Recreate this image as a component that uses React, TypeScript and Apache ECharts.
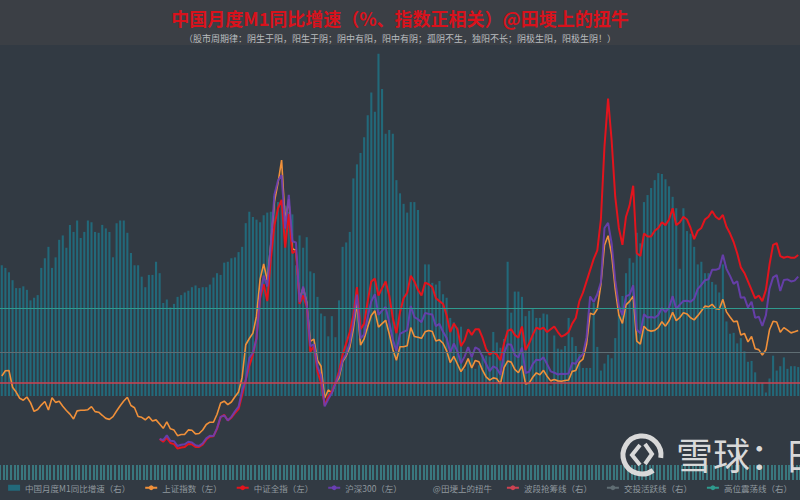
import React, { useEffect, useRef } from "react";
import * as echarts from "echarts";

// ---------- data ----------
const START_YEAR = 2001;
const START_MONTH = 4;
const MONTH_COUNT = 223;
const CATEGORIES: string[] = [];
for (let k = 0; k < MONTH_COUNT; k++) {
  const m = START_MONTH - 1 + k;
  CATEGORIES.push(`${START_YEAR + Math.floor(m / 12)}-${String((m % 12) + 1).padStart(2, "0")}`);
}

// 中国月度M1同比增速 (%)
const M1_YOY = [
  14.9, 14.6, 14.1, 13.2, 12.3, 12.3, 12.5, 12.1, 10.9, 11.2, 11.5, 14.6,
  15.7, 17.0, 14.6, 15.8, 17.8, 18.3, 16.9, 19.5, 18.7, 20.0, 18.0, 18.7,
  20.0, 19.8, 18.7, 18.6, 19.5, 19.1, 18.7, 15.8, 19.7, 20.0, 20.0, 18.6,
  16.3, 14.9, 14.9, 13.6, 12.4, 13.8, 13.8, 15.3, 14.0, 10.6, 11.0, 10.1,
  10.5, 11.3, 11.5, 11.8, 12.0, 12.4, 12.6, 12.3, 12.4, 12.4, 12.7, 13.5,
  14.0, 13.8, 15.2, 15.3, 15.7, 15.8, 16.4, 17.0, 19.7, 21.0, 20.4, 20.1,
  19.8, 20.6, 20.9, 21.0, 22.8, 22.1, 22.2, 21.7, 21.0, 20.7, 14.9, 18.3,
  16.9, 18.1, 14.2, 14.0, 11.3, 9.4, 9.1, 6.8, 9.1, 6.7, 10.9, 17.0,
  17.5, 18.7, 24.8, 26.4, 27.7, 29.5, 32.0, 34.6, 32.4, 39.0, 35.0, 29.9,
  30.3, 29.9, 24.6, 23.1, 21.9, 20.9, 22.1, 22.1, 21.2, 9.9, 15.0, 15.0,
  12.9, 12.7, 13.1, 11.6, 11.2, 8.9, 8.4, 7.8, 7.9, 3.1, 4.3, 4.4,
  3.1, 3.5, 4.7, 4.6, 4.5, 7.3, 6.1, 5.5, 6.5, 15.3, 9.5, 11.9,
  11.9, 11.3, 9.1, 9.7, 9.9, 8.9, 8.9, 9.4, 9.3, 1.2, 6.9, 5.4,
  5.3, 5.7, 8.9, 6.7, 5.7, 4.8, 3.2, 3.2, 3.2, 10.6, 5.6, 2.9,
  3.7, 4.7, 4.3, 6.6, 9.3, 11.4, 14.0, 15.7, 15.2, 18.6, 17.4, 22.1,
  22.9, 23.7, 24.6, 25.4, 25.3, 24.7, 23.9, 22.7, 21.4, 14.5, 21.4, 18.8,
  18.5, 17.0, 15.0, 15.3, 14.0, 14.0, 13.0, 12.7, 11.8, 15.0, 8.5, 7.1,
  7.2, 6.0, 6.6, 5.1, 3.9, 4.0, 2.7, 1.5, 1.5, 0.4, 2.0, 4.6,
  2.9, 3.4, 4.4, 3.1, 3.4, 3.4, 3.3,
];

// 上证指数 (monthly close)
const SSE = [
  2119, 2214, 2218, 1920, 1834, 1724, 1690, 1747, 1646,
  1491, 1524, 1603, 1667, 1515, 1732, 1651, 1670, 1581, 1507, 1442, 1357,
  1500, 1511, 1511, 1521, 1576, 1487, 1476, 1422, 1367, 1349, 1397, 1497,
  1590, 1675, 1742, 1595, 1555, 1400, 1386, 1342, 1396, 1320, 1340, 1266,
  1191, 1306, 1181, 1159, 1060, 1080, 1083, 1162, 1155, 1092, 1099, 1161,
  1258, 1299, 1298, 1440, 1641, 1672, 1612, 1658, 1752, 1837, 2099, 2675,
  2786, 2881, 3183, 3841, 4109, 3820, 4471, 5218, 5552, 5954, 4871, 5261,
  4383, 4348, 3472, 3693, 3433, 2736, 2775, 2397, 2293, 1728, 1871, 1820,
  1990, 2082, 2373, 2477, 2632, 2959, 3412, 2667, 2779, 2995, 3195, 3277,
  2989, 3051, 3109, 2870, 2592, 2398, 2638, 2639, 2656, 2979, 2820, 2808,
  2790, 2905, 2928, 2911, 2743, 2762, 2701, 2567, 2359, 2468, 2333, 2199,
  2292, 2428, 2263, 2397, 2373, 2225, 2103, 2047, 2086, 2069, 1980, 2269,
  2385, 2366, 2237, 2178, 2301, 1979, 1994, 2098, 2175, 2141, 2220, 2116,
  2033, 2056, 2033, 2026, 2039, 2048, 2202, 2217, 2364, 2420, 2683, 3235,
  3210, 3310, 3748, 4441, 4612, 4277, 3664, 3206, 3053, 3383, 3445, 3539,
  2738, 2688, 3004, 2938, 2917, 2930, 2979, 3085, 3005, 3100, 3250, 3104,
  3159, 3242, 3223, 3155, 3117, 3192, 3273, 3361, 3349, 3393, 3317, 3307,
  3481, 3259, 3169, 3082, 3095, 2847, 2876, 2725, 2821, 2603, 2588, 2494,
  2585, 2941, 3091, 3078, 2899, 2979, 2933, 2886, 2905, 2929,
];

// 中证全指 / 沪深300 start at the base month
const INDEX_START = "2004-12";

const CSI_ALL = [
  1000,
  950, 1020, 930, 910, 830, 850, 860, 910, 905, 860, 860, 900,
  990, 1040, 1050, 1180, 1390, 1430, 1330, 1380, 1460, 1530, 1780, 2050,
  2300, 2500, 2800, 3500, 3750, 3450, 4200, 4800, 5100, 5250, 4400, 5000,
  4300, 4350, 3400, 3550, 3350, 2550, 2650, 2200, 2000, 1600, 1750, 1850,
  2000, 2200, 2500, 2700, 2900, 3200, 3700, 2950, 3050, 3450, 3800, 3850,
  3550, 3680, 3800, 3550, 3150, 2880, 3250, 3500, 3600, 3900, 3800, 3650,
  3550, 3780, 3750, 3700, 3500, 3450, 3400, 3200, 2900, 3050, 2950, 2650,
  2750, 2950, 2850, 2950, 2950, 2800, 2600, 2500, 2550, 2500, 2400, 2700,
  2920, 2950, 2850, 2800, 3000, 2580, 2700, 2850, 2980, 2950, 2980, 2900,
  2950, 3000, 2900, 2820, 2850, 2900, 3050, 3150, 3450, 3600, 3800, 4000,
  4200, 4350, 4900, 6200, 7050, 6300, 5300, 4750, 4450, 4950, 5150, 5500,
  4300, 4250, 4650, 4600, 4600, 4700, 4750, 4850, 4800, 4900, 5100, 4800,
  4850, 4950, 4900, 4750, 4550, 4700, 4750, 4900, 4950, 5050, 4950, 4900,
  4980, 4770, 4650, 4500, 4300, 4050, 3950, 3800, 3650, 3500, 3550, 3450,
  3650, 4100, 4450, 4480, 4250, 4220, 4240, 4220, 4220, 4270,
];

const HS300 = [
  1000,
  982, 1064, 969, 962, 875, 899, 906, 952, 939, 888, 878, 923,
  1011, 1058, 1053, 1194, 1393, 1420, 1330, 1393, 1491, 1574, 1863, 2041,
  2438, 2532, 2781, 3558, 3904, 3710, 4472, 5342, 5593, 5688, 4739, 5338,
  4514, 4491, 3430, 3712, 3400, 2651, 2679, 2281, 2128, 1580, 1707, 1817,
  1991, 2140, 2400, 2507, 2709, 3078, 3564, 2787, 2856, 3170, 3446, 3575,
  3205, 3281, 3345, 3068, 2771, 2563, 2868, 2903, 2935, 3363, 3167, 3128,
  3076, 3239, 3223, 3212, 3004, 3044, 2906, 2795, 2536, 2697, 2558, 2346,
  2464, 2634, 2455, 2627, 2593, 2462, 2333, 2205, 2293, 2254, 2140, 2523,
  2686, 2673, 2495, 2448, 2624, 2173, 2194, 2332, 2409, 2399, 2450, 2331,
  2203, 2178, 2146, 2158, 2157, 2165, 2352, 2339, 2450, 2508, 2805, 3533,
  3434, 3572, 3786, 4749, 4840, 4473, 3817, 3366, 3202, 3534, 3566, 3731,
  2946, 2877, 3218, 3157, 3169, 3154, 3203, 3327, 3253, 3336, 3538, 3310,
  3387, 3452, 3456, 3439, 3492, 3666, 3737, 3822, 3837, 4006, 4006, 4030,
  4275, 4023, 3899, 3756, 3802, 3510, 3517, 3335, 3438, 3153, 3173, 3011,
  3202, 3670, 3872, 3913, 3630, 3826, 3836, 3799, 3814, 3886,
];

// reference lines on the right axis (%)
const LINE_BAND = 1.5; // 波段抢筹线
const LINE_ACTIVE = 5; // 交投活跃线
const LINE_HIGH = 10; // 高位震荡线

const TITLE = "中国月度M1同比增速（%、指数正相关）@田埂上的扭牛";
const SUBTITLE = "（股市周期律：阴生于阳，阳生于阴；阴中有阳，阳中有阴；孤阴不生，独阳不长；阴极生阳，阳极生阴！）";
const WATERMARK = "雪球：田埂上的扭牛";

const NAMES = {
  m1: "中国月度M1同比增速（右）",
  sse: "上证指数（左）",
  csi: "中证全指（左）",
  hs: "沪深300（左）",
  author: "@田埂上的扭牛",
  band: "波段抢筹线（右）",
  active: "交投活跃线（右）",
  high: "高位震荡线（右）",
};

const FONT = "'Noto Sans CJK SC', 'Noto Sans', sans-serif";

function padFrom(start: string, values: number[]) {
  const off = CATEGORIES.indexOf(start);
  return CATEGORIES.map((_, k) => (k < off ? null : values[k - off] ?? null));
}

function refLine(name: string, value: number, color: string, width: number) {
  return {
    name,
    type: "line",
    yAxisIndex: 1,
    data: [],
    symbol: "none",
    z: 5,
    itemStyle: { color },
    lineStyle: { color, width },
    markLine: {
      silent: true,
      z: 5,
      symbol: ["none", "none"],
      label: { show: false },
      lineStyle: { color, width, type: "solid", opacity: 1 },
      data: [{ yAxis: value }],
    },
  };
}

export default function App() {
  const ref = useRef<HTMLDivElement>(null);

  useEffect(() => {
    document.body.style.margin = "0";
    if (!ref.current) return;
    const chart = echarts.init(ref.current, null, { renderer: "svg" });

    const option: any = {
      animation: false,
      backgroundColor: "#323a43",
      title: [
        {
          text: TITLE,
          left: "center",
          top: 4,
          textStyle: { color: "#d8121c", fontSize: 18, fontWeight: "bold", fontFamily: FONT },
        },
        {
          text: SUBTITLE,
          left: "center",
          top: 29,
          textStyle: { color: "#b9bcbf", fontSize: 9, fontWeight: "normal", fontFamily: FONT },
        },
      ],
      legend: {
        left: "center",
        bottom: 3,
        itemGap: 14,
        itemWidth: 12,
        itemHeight: 6,
        textStyle: { color: "#8f989e", fontSize: 8.5, fontFamily: FONT },
        data: [
          { name: NAMES.m1, icon: "rect" },
          { name: NAMES.sse },
          { name: NAMES.csi },
          { name: NAMES.hs },
          { name: NAMES.author, icon: "none" },
          { name: NAMES.band },
          { name: NAMES.active },
          { name: NAMES.high },
        ],
      },
      grid: { left: 0, right: 0, top: 45, bottom: 20, containLabel: false },
      xAxis: {
        type: "category",
        data: CATEGORIES,
        boundaryGap: true,
        axisLine: { show: false, onZero: false },
        axisLabel: { show: false },
        axisTick: {
          show: true,
          interval: 0,
          inside: true,
          length: 15,
          lineStyle: { color: "#3c878e", width: 1.6 },
        },
        splitLine: { show: false },
      },
      yAxis: [
        { type: "value", min: 272, max: 8000, show: false, splitLine: { show: false } },
        { type: "value", min: -9.57, max: 40, show: false, splitLine: { show: false } },
      ],
      series: [
        {
          name: NAMES.m1,
          type: "bar",
          yAxisIndex: 1,
          data: M1_YOY,
          barCategoryGap: "42%",
          itemStyle: { color: "#22697a" },
        },
        {
          name: NAMES.sse,
          type: "line",
          yAxisIndex: 0,
          data: SSE,
          symbol: "none",
          z: 3,
          itemStyle: { color: "#f0903a" },
          lineStyle: { color: "#f0903a", width: 1.6 },
        },
        {
          name: NAMES.csi,
          type: "line",
          yAxisIndex: 0,
          data: padFrom(INDEX_START, CSI_ALL),
          symbol: "none",
          z: 3,
          itemStyle: { color: "#e3141d" },
          lineStyle: { color: "#e3141d", width: 2 },
        },
        {
          name: NAMES.hs,
          type: "line",
          yAxisIndex: 0,
          data: padFrom(INDEX_START, HS300),
          symbol: "none",
          z: 3,
          itemStyle: { color: "#6a3fb4" },
          lineStyle: { color: "#6a3fb4", width: 2, opacity: 0.9 },
        },
        {
          name: NAMES.author,
          type: "line",
          yAxisIndex: 0,
          data: [],
          symbol: "none",
          itemStyle: { color: "rgba(0,0,0,0)" },
          lineStyle: { color: "rgba(0,0,0,0)" },
        },
        refLine(NAMES.band, LINE_BAND, "#cc4352", 1.5),
        refLine(NAMES.active, LINE_ACTIVE, "#5f6d73", 1),
        refLine(NAMES.high, LINE_HIGH, "#2f9a8e", 1),
      ],
      graphic: [
        {
          type: "rect",
          z: -10,
          silent: true,
          shape: { x: 0, y: 0, width: 800, height: 45 },
          style: { fill: "#3b3f45" },
        },
        {
          type: "arc",
          z: 100,
          silent: true,
          shape: { cx: 642, cy: 455, r: 19, startAngle: Math.PI * 0.3, endAngle: Math.PI * 2.05 },
          style: { stroke: "#d9d9d9", lineWidth: 5, fill: "none" },
        },
        {
          type: "polyline",
          z: 100,
          silent: true,
          shape: { points: [[640, 445], [632, 455], [640, 465]] },
          style: { stroke: "#d9d9d9", lineWidth: 4, fill: "none" },
        },
        {
          type: "polyline",
          z: 100,
          silent: true,
          shape: { points: [[645, 444], [652, 454], [645, 464]] },
          style: { stroke: "#d9d9d9", lineWidth: 4, fill: "none" },
        },
        {
          type: "text",
          z: 100,
          silent: true,
          x: 676,
          y: 454,
          style: {
            text: WATERMARK,
            fill: "#d9d9d9",
            fontSize: 37,
            fontFamily: FONT,
            verticalAlign: "middle",
            align: "left",
          },
        },
      ],
    };

    chart.setOption(option);
    return () => chart.dispose();
  }, []);

  return <div ref={ref} style={{ width: 800, height: 500 }} />;
}
